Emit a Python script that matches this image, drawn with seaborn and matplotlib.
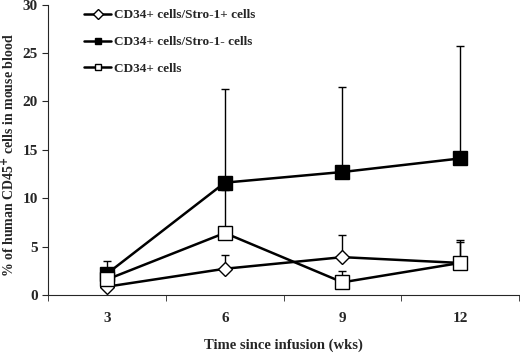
import numpy as np
import pandas as pd
import matplotlib
matplotlib.use("Agg")
import matplotlib.pyplot as plt
from matplotlib.lines import Line2D
import seaborn as sns

weeks = ["3", "6", "9", "12"]
series_names = ["CD34+ cells/Stro-1+ cells", "CD34+ cells/Stro-1- cells", "CD34+ cells"]
stro_pos = [0.85, 2.7, 3.9, 3.3]
stro_pos_err = [0.0, 1.4, 2.3, 2.2]
stro_neg = [2.2, 11.6, 12.7, 14.1]
stro_neg_err = [1.3, 9.7, 8.8, 11.6]
cd34 = [1.6, 6.4, 1.3, 3.3]
cd34_err = [0.0, 4.4, 1.2, 2.4]

sns.set_style("ticks")
plt.rcParams["font.family"] = ["Liberation Serif", "DejaVu Serif"]
plt.rcParams["font.weight"] = "bold"

fig = plt.figure(figsize=(5.2, 3.54), dpi=100)
ax = fig.add_axes([0.093, 0.167, 0.905, 0.82])

styles = [
    dict(marker="D", mfc="white", ms=7),
    dict(marker="s", mfc="black", ms=10),
    dict(marker="s", mfc="white", ms=10),
]
values = [stro_pos, stro_neg, cd34]
errors = [stro_pos_err, stro_neg_err, cd34_err]
x = np.arange(len(weeks))

for vals, errs in zip(values, errors):
    ax.errorbar(x, vals, yerr=[np.zeros(len(errs)), errs], fmt="none",
                ecolor="black", elinewidth=1, capsize=3, capthick=1, zorder=1)

for name, vals, st in zip(series_names, values, styles):
    df = pd.DataFrame({"x": x, "y": vals})
    sns.lineplot(data=df, x="x", y="y", ax=ax, color="black", lw=1.8,
                 marker=st["marker"], markersize=st["ms"],
                 markerfacecolor=st["mfc"], markeredgecolor="black",
                 markeredgewidth=1, legend=False, zorder=3)

ax.set_xlim(-0.5, 3.5)
ax.set_ylim(0, 30)
ax.set_yticks([0, 5, 10, 15, 20, 25, 30])
ax.set_xticks(x)
ax.set_xticklabels(weeks)
ax.set_xticks([-0.5, 0.5, 1.5, 2.5, 3.5], minor=True)
ax.tick_params(axis="x", which="major", length=0, pad=12, labelsize=11)
ax.tick_params(axis="x", which="minor", length=4, direction="out")
ax.tick_params(axis="y", length=4, direction="out", labelsize=11)
for lab in ax.get_xticklabels() + ax.get_yticklabels():
    lab.set_fontweight("bold")
sns.despine(ax=ax)

ax.set_xlabel("Time since infusion (wks)", fontsize=10.5, fontweight="bold", labelpad=10)
ax.set_ylabel("% of human CD45$^{+}$ cells in mouse blood", fontsize=10, fontweight="bold")
ax.yaxis.set_label_coords(-0.066, 0.48)

handles = [Line2D([], [], color="black", lw=1.8, marker=st["marker"],
                  markersize=5, markerfacecolor=st["mfc"],
                  markeredgecolor="black", markeredgewidth=1) for st in styles]
ax.legend(handles, series_names, loc="upper left", bbox_to_anchor=(0.05, 1.025),
          frameon=False, prop={"weight": "bold", "size": 9.5}, handlelength=2.1,
          handletextpad=0.2, labelspacing=1.1)

fig.savefig("out.png", dpi=100)
